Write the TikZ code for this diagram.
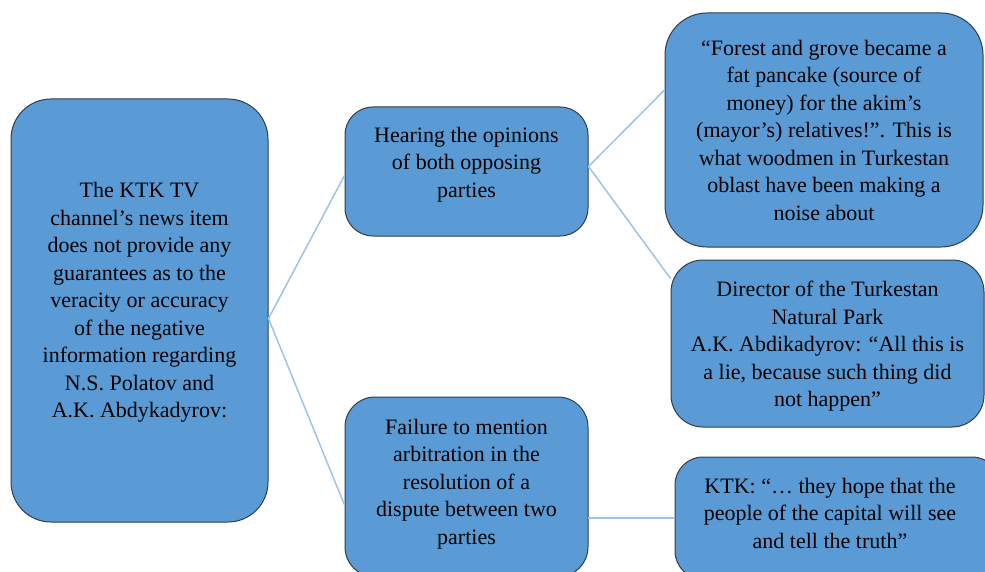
\documentclass[tikz,border=0pt]{standalone}
\usepackage{fontspec}
\setmainfont{Liberation Serif}

% Colours of the boxes and the links
\definecolor{boxblue}{HTML}{5B9BD5}
\definecolor{boxedge}{HTML}{2F3D4C}
\definecolor{linkblue}{HTML}{9DC3E6}

\begin{document}
\begin{tikzpicture}[x=1pt, y=-1pt, line cap=round, line join=round,
  infobox/.style={draw=boxedge, fill=boxblue, line width=1pt, inner sep=0pt},
  boxtext/.style={align=center, inner sep=0pt, font=\fontsize{22}{27.5}\selectfont},
  link/.style={draw=linkblue, line width=1.5pt}]

% Frame of the picture
\useasboundingbox (0,0) rectangle (985,572);
\clip (0,0) rectangle (985,572);

% Main statement on the left
\node[infobox, rounded corners=40pt, minimum width=257pt, minimum height=423pt]
  (news) at (139.5,310.5) {};
\node[boxtext] (newstext) at ([yshift=8pt]news.center) {The KTK TV\\ channel’s news item\\
  does not provide any\\ guarantees as to the\\ veracity or accuracy\\ of the negative\\
  information regarding\\ N.S. Polatov and\\ A.K. Abdykadyrov:};

% Middle column
\node[infobox, rounded corners=28pt, minimum width=243pt, minimum height=129pt]
  (hearing) at (466.5,171.5) {};
\node[boxtext] (hearingtext) at ([yshift=7pt]hearing.center)
  {Hearing the opinions\\ of both opposing\\ parties};
\node[infobox, rounded corners=30pt, minimum width=243pt, minimum height=180pt]
  (failure) at (466.5,487) {};
\node[boxtext] (failuretext) at ([yshift=3pt]failure.center) {Failure to mention\\
  arbitration in the\\ resolution of a\\ dispute between two\\ parties};

% Right column
\node[infobox, rounded corners=42pt, minimum width=318pt, minimum height=234pt]
  (forest) at (824,130) {};
\node[boxtext] (foresttext) at (forest.center) {“Forest and grove became a\\
  fat pancake (source of\\ money) for the akim’s\\ (mayor’s) relatives!”. This is\\
  what woodmen in Turkestan\\ oblast have been making a\\ noise about};
\node[infobox, rounded corners=32pt, minimum width=313pt, minimum height=167pt]
  (director) at (827.5,343.5) {};
\node[boxtext] (directortext) at ([yshift=-3pt]director.center)
  {Director of the Turkestan\\ Natural Park\\
  A.K. Abdikadyrov: “All this is\\ a lie, because such thing did\\ not happen”};
\node[infobox, rounded corners=28pt, minimum width=325pt, minimum height=122pt]
  (ktk) at (837.5,518) {};
\node[boxtext] (ktktext) at (830,513) {KTK: “… they hope that the\\
  people of the capital will see\\ and tell the truth”};

% Links between the boxes
\draw[link] ([yshift=-8pt]news.east) -- ([yshift=-4pt]hearing.west);
\draw[link] ([yshift=-8pt]news.east) -- ([yshift=-18pt]failure.west);
\draw[link] ([yshift=5pt]hearing.east) -- ([yshift=40pt]forest.west);
\draw[link] ([yshift=5pt]hearing.east) -- ([yshift=65pt]director.west);
\draw[link] ([yshift=-31pt]failure.east) -- (ktk.west);

\end{tikzpicture}
\end{document}
